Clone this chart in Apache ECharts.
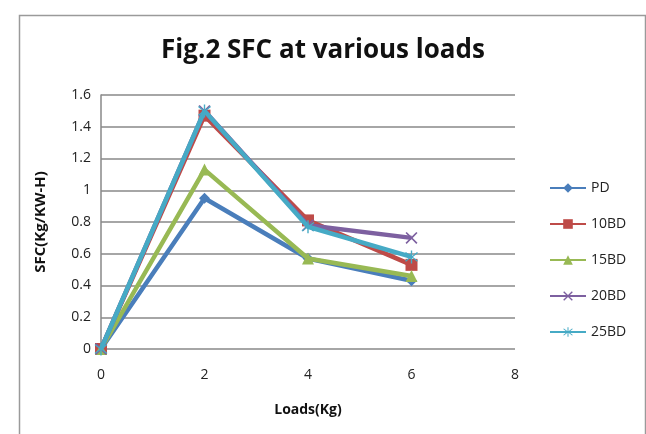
<!DOCTYPE html>
<html><head><meta charset="utf-8">
<script src="https://cdn.jsdelivr.net/npm/echarts@6/dist/echarts.min.js"></script>
<style>html,body{margin:0;padding:0;background:#fff}#c{width:646px;height:434px}</style>
</head><body><div id="c"></div>
<script>
const loads = [0, 2, 4, 6];
const seriesNames = ['PD', '10BD', '15BD', '20BD', '25BD'];
const PD = [0, 0.95, 0.57, 0.43];
const BD10 = [0, 1.47, 0.81, 0.53];
const BD15 = [0, 1.13, 0.57, 0.46];
const BD20 = [0, 1.50, 0.78, 0.70];
const BD25 = [0, 1.50, 0.77, 0.58];
const yTicks = ['0', '0.2', '0.4', '0.6', '0.8', '1', '1.2', '1.4', '1.6'];

const colors = ['#4A7EBB', '#BE4B48', '#98B954', '#7D60A0', '#46AAC5'];
const symbols = ['diamond', 'rect', 'triangle',
  'path://M1,0L5,4L9,0L10,1L6,5L10,9L9,10L5,6L1,10L0,9L4,5L0,1Z',
  'path://M4.5,0H5.5V4.3L9,1.3L9.7,2L6,5L9.7,8L9,8.7L5.5,5.7V10H4.5V5.7L1,8.7L0.3,8L4,5L0.3,2L1,1.3L4.5,4.3Z'];
const sizes = [11, 12, 12, 12, 13];
const allData = [PD, BD10, BD15, BD20, BD25];

const font = '"Open Sans",sans-serif';
const chart = echarts.init(document.getElementById('c'), null, {renderer: 'canvas'});
chart.setOption({
  animation: false,
  backgroundColor: '#fff',
  color: colors,
  title: {
    text: 'Fig.2 SFC at various loads', left: 'center', top: 33,
    textStyle: {fontFamily: font, fontWeight: 'bold', fontSize: 26, color: '#111'}
  },
  grid: {left: 101, right: 131, top: 95, bottom: 85},
  legend: {
    orient: 'vertical', left: 544, top: 176, itemGap: 22, itemWidth: 36, itemHeight: 12,
    data: seriesNames,
    textStyle: {fontFamily: font, fontSize: 14, color: '#222'}
  },
  xAxis: {
    type: 'value', min: 0, max: 8, interval: 2,
    name: 'Loads(Kg)', nameLocation: 'middle', nameGap: 54,
    nameTextStyle: {fontFamily: font, fontWeight: 'bold', fontSize: 14, color: '#111'},
    axisLine: {show: false}, axisTick: {show: false}, splitLine: {show: false},
    axisLabel: {fontFamily: font, fontSize: 14, color: '#222', margin: 19}
  },
  yAxis: {
    type: 'value', min: 0, max: 1.6, interval: 0.2,
    name: 'SFC(Kg/KW-H)', nameLocation: 'middle', nameGap: 53,
    nameTextStyle: {fontFamily: font, fontWeight: 'bold', fontSize: 15, color: '#111'},
    axisLine: {show: true, lineStyle: {color: '#888', width: 1.5}}, axisTick: {show: false},
    splitLine: {show: true, lineStyle: {color: '#888', width: 1.5}},
    axisLabel: {fontFamily: font, fontSize: 14, color: '#222', margin: 10,
      formatter: (v, i) => yTicks[i]}
  },
  series: seriesNames.map((n, i) => ({
    name: n, type: 'line',
    data: loads.map((x, j) => [x, allData[i][j]]),
    symbol: symbols[i], symbolSize: sizes[i], showSymbol: true,
    lineStyle: {width: 4.5, color: colors[i]},
    itemStyle: {color: colors[i]},
    z: 2 + i
  })),
  graphic: [{
    type: 'rect', left: 17, top: 13, z: -1, silent: true,
    shape: {width: 626, height: 430},
    style: {fill: 'none', stroke: '#9a9a9a', lineWidth: 1.5}
  }]
});
</script></body></html>
